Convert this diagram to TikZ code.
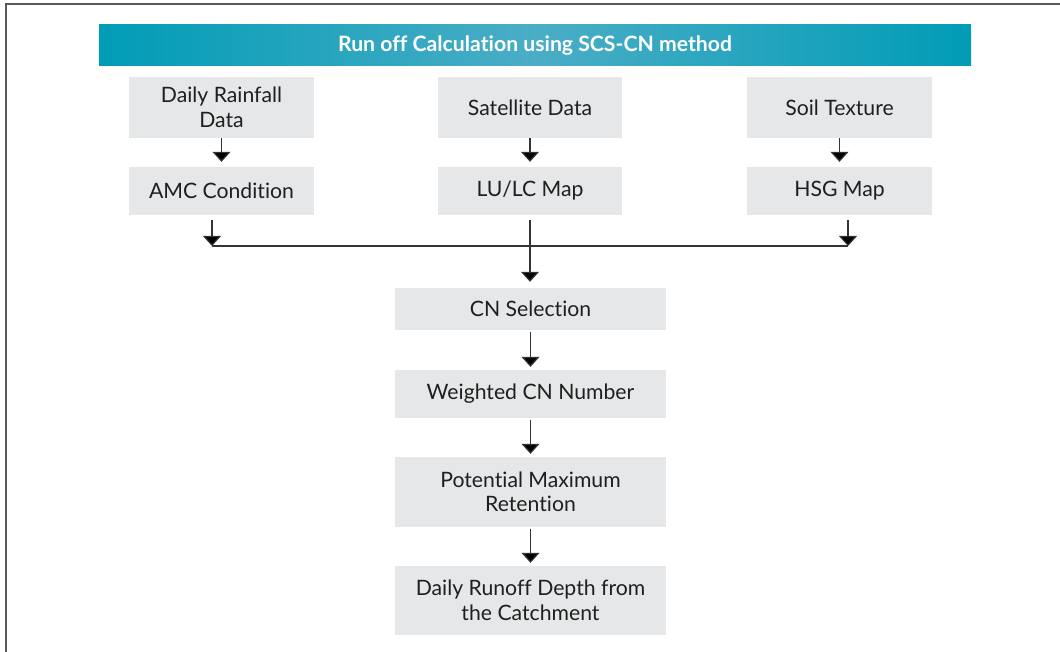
\documentclass[tikz,border=0pt]{standalone}
\usepackage{fontspec}
\setmainfont{Lato}[RawFeature={-liga}]
\usetikzlibrary{arrows.meta}
\definecolor{boxgray}{HTML}{E6E7E8}
\definecolor{tealA}{HTML}{009CB6}
\definecolor{tealB}{HTML}{4BADC6}
\definecolor{framegray}{HTML}{5A5A5A}
\definecolor{linegray}{HTML}{333333}
\begin{document}
\begin{tikzpicture}[x=1pt,y=-1pt,
  box/.style={fill=boxgray, inner sep=0pt, align=center, text=black!88,
    font=\fontsize{21.2}{24.5}\selectfont},
  arr/.style={draw=linegray, line width=1.2pt, -{Triangle[width=18pt,length=10pt,fill=black]}},
  plain/.style={draw=linegray, line width=1.2pt}]
\useasboundingbox (0,0) rectangle (1060,652);
\fill[white] (0,0) rectangle (1060,652);
\draw[framegray, line width=1.6pt] (6,652) -- (6,4) -- (1060,4);

\node[inner sep=0pt, minimum width=872pt, minimum height=41pt,
  left color=tealA, right color=tealA, middle color=tealB,
  text=white, font=\bfseries\fontsize{21.2}{24}\selectfont] (title) at (535,45.5)
  {Run off Calculation using SCS-CN method};

\node[box, minimum width=185pt, minimum height=61pt] (rain) at (221.5,107.5) {Daily Rainfall\\Data};
\node[box, minimum width=184pt, minimum height=61pt] (sat) at (530,107.5) {Satellite Data};
\node[box, minimum width=185pt, minimum height=61pt] (soil) at (839.5,107.5) {Soil Texture};

\node[box, minimum width=185pt, minimum height=48pt] (amc) at (221.5,191) {AMC Condition};
\node[box, minimum width=184pt, minimum height=48pt] (lulc) at (530,191) {LU/LC Map};
\node[box, minimum width=185pt, minimum height=48pt] (hsg) at (839.5,191) {HSG Map};

\node[box, minimum width=271pt, minimum height=42pt] (cn) at (530.5,309) {CN Selection};
\node[box, minimum width=271pt, minimum height=48pt] (wcn) at (530.5,394) {Weighted CN Number};
\node[box, minimum width=271pt, minimum height=70pt] (pmr) at (530.5,492) {Potential Maximum\\Retention};
\node[box, minimum width=271pt, minimum height=69pt] (drd) at (530.5,600.5) {Daily Runoff Depth from\\the Catchment};

\draw[arr, shorten >=5pt] (rain) -- (amc);
\draw[arr, shorten >=5pt] (sat) -- (lulc);
\draw[arr, shorten >=5pt] (soil) -- (hsg);

\coordinate (jl) at (212,246);
\coordinate (jr) at (848,246);
\draw[plain] (jl) -- (jr);
\draw[arr, shorten <=5pt] (amc.south -| jl) -- (jl);
\draw[arr, shorten <=5pt] (hsg.south -| jr) -- (jr);
\draw[arr, shorten <=5pt, shorten >=6pt] (lulc.south) -- (lulc.south |- cn.north);

\draw[arr, shorten <=2pt, shorten >=3pt] (cn) -- (wcn);
\draw[arr, shorten <=2pt, shorten >=3pt] (wcn) -- (pmr);
\draw[arr, shorten <=2pt, shorten >=3pt] (pmr) -- (drd);
\end{tikzpicture}
\end{document}
